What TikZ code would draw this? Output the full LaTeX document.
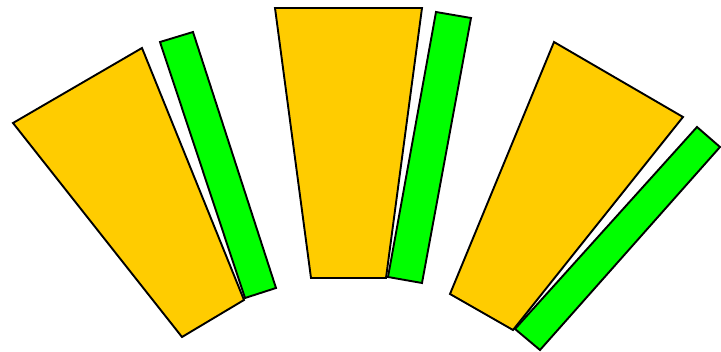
\documentclass[tikz,border=0pt]{standalone}
\definecolor{petal}{HTML}{FFCC00}
\definecolor{strip}{HTML}{00FF00}
\begin{document}
\begin{tikzpicture}[x=1pt,y=-1pt,
  yel/.style={fill=petal,draw=black,line width=1.9pt,line join=miter},
  grn/.style={fill=strip,draw=black,line width=1.9pt,line join=miter}]
\useasboundingbox (0,0) rectangle (721,352);
% left
\draw[yel] (13,123) -- (142,48) -- (244,300) -- (182,337) -- cycle;
\draw[grn] (160,42) -- (193,32) -- (276,288) -- (245,298) -- cycle;
% middle
\draw[yel] (275,8) -- (422,8) -- (386,278) -- (311,278) -- cycle;
\draw[grn] (436,12) -- (471,18) -- (422,283) -- (388,277) -- cycle;
% right
\draw[yel] (554,42) -- (683,117) -- (513,330) -- (450,294) -- cycle;
\draw[grn] (697,127) -- (720,147) -- (540,350) -- (515,329) -- cycle;
\end{tikzpicture}
\end{document}
